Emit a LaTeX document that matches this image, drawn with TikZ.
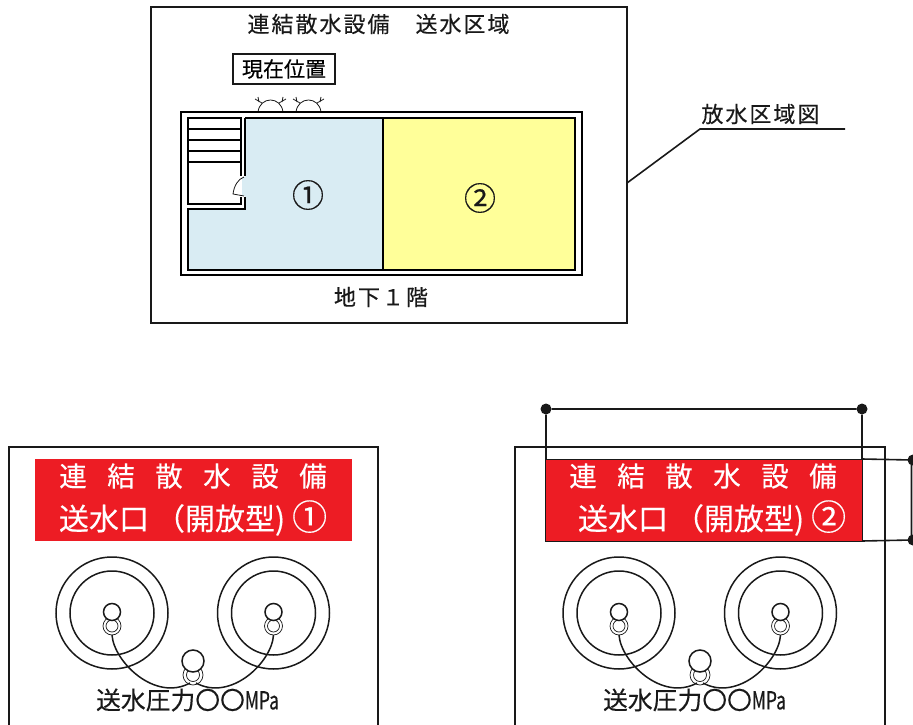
\documentclass[tikz,border=0pt]{standalone}
\usepackage{fontspec}
\setmainfont[FakeBold=0.35]{Noto Sans CJK JP}
\newcommand{\fs}[1]{\fontsize{#1}{#1}\selectfont}
\definecolor{sigred}{RGB}{237,28,36}
\definecolor{zoneb}{RGB}{217,236,243}
\definecolor{zoney}{RGB}{255,255,153}
\tikzset{
  x=1pt,y=-1pt,
  every node/.style={outer sep=0pt},
  wall/.style={draw=black,line width=2pt},
  thin box/.style={draw=black!90,line width=1.6pt},
  lab/.style={inner sep=0pt,text=black!90},
  sign/.style={inner sep=0pt,text=white},
  ln/.style={draw=black!90,line width=1.6pt},
  pipe/.style={draw=black!90,line width=1.5pt},
  dot/.style={circle,fill=black!90,inner sep=0pt,minimum size=11pt},
  mouth/.style={draw=black!90,line width=1.5pt,circle,inner sep=0pt,fill=white},
}
\newcommand{\valveset}[1]{%
\begin{scope}[shift={(#1,0)}]
  \node[mouth,minimum size=112pt] (ol) at (-81,613) {};
  \node[mouth,minimum size=84pt] (il) at (-81,613) {};
  \node[mouth,minimum size=112pt] (or) at (80.5,613) {};
  \node[mouth,minimum size=84pt] (ir) at (80.5,613) {};
  \node[mouth,minimum size=18pt,line width=.7pt] (rl) at (-81,626) {};
  \node[mouth,minimum size=12pt,line width=.7pt] at (-81,626) {};
  \node[mouth,minimum size=17pt] (hl) at (-81,612) {};
  \node[mouth,minimum size=18pt,line width=.7pt] (rr) at (80.5,626) {};
  \node[mouth,minimum size=12pt,line width=.7pt] at (80.5,626) {};
  \node[mouth,minimum size=17pt] (hr) at (80.5,612) {};
  \node[mouth,minimum size=20pt,line width=.7pt] (rc) at (0,675) {};
  \node[mouth,minimum size=13pt,line width=.7pt] at (0,675) {};
  \node[mouth,minimum size=22pt] (hc) at (0,661) {};
  \draw[pipe] (rl.south) .. controls (-79,662) and (-38,702) .. (-3,683);
  \draw[pipe] (rr.south) .. controls (79,662) and (38,702) .. (3,683);
  \node[lab,font=\fs{24.8}] at (-5.5,700) {送水圧力〇〇\scalebox{.7}[1]{MPa}};
\end{scope}}
\newcommand{\signtop}{連\hspace{20.5pt}結\hspace{20.5pt}散\hspace{20.5pt}水\hspace{20.5pt}設\hspace{20.5pt}備}
\newcommand{\signlow}[1]{送水口\hspace{6pt}（開放型)\hspace{7pt}{\fs{35}#1}}
\newcommand{\gp}{\kern2pt\relax}
\begin{document}
\begin{tikzpicture}
\useasboundingbox (0,0) rectangle (913,725);
% top frame
\node[thin box,minimum width=476pt,minimum height=316pt,inner sep=0pt] (frame) at (389,165) {};
\node[lab,font=\fs{22}] (title) at (378.5,24) {連\gp 結\gp 散\gp 水\gp 設\gp 備\gp 　\gp 送\gp 水\gp 区\gp 域};
\node[thin box,line width=1.2pt,minimum width=102pt,minimum height=30pt,inner sep=0pt,font=\fs{21}] (here) at (284,69) {現在位置};
% siamese symbols
\draw[pipe,line width=.8pt] (258,112) .. controls (260,96) and (281,96) .. (283,112)
  (296,112) .. controls (298,96) and (319,96) .. (321,112)
  (262,103) -- (255,99) (258,97) -- (259,102) (279,103) -- (286,99) (283,97) -- (282,102)
  (300,103) -- (293,99) (296,97) -- (297,102) (317,103) -- (324,99) (321,97) -- (320,102);
% plan
\node[wall,minimum width=401pt,minimum height=163pt,inner sep=0pt] (outer) at (381.5,193.5) {};
\fill[zoneb] (245,118) -- (383,118) -- (383,270) -- (188,270) -- (188,209) -- (245,209) -- cycle;
\fill[zoney] (383,118) rectangle (575,270);
\draw[wall] (245,118) -- (575,118) -- (575,270) -- (188,270) -- (188,209) -- (245,209) -- (245,197);
\draw[wall] (383,118) -- (383,270);
\draw[wall] (245,118) -- (245,176);
\draw[wall] (188,117.5) -- (241,117.5) -- (241,176);
\draw[wall] (188,117) -- (188,204) -- (241,204) -- (241,197);
\draw[wall,line width=1.7pt] (188,129) -- (241,129) (188,140) -- (241,140) (188,151) -- (241,151) (188,162) -- (241,162);
\fill[white] (234,177) rectangle (242,196);
\fill[zoneb] (242,177) rectangle (247,196);
\draw[draw=black!90,line width=.8pt] (244,177) .. controls (238,179) and (234,186) .. (233,194) -- (244,196);
\node[lab,font=\fs{32}] (z1) at (308,195) {①};
\node[lab,font=\fs{32}] (z2) at (480,198) {②};
\node[lab,font=\fs{22}] (floor) at (381,297) {地\gp 下\gp １\gp 階};
% leader
\node[lab,font=\fs{22}] (legend) at (760.5,114) {放\gp 水\gp 区\gp 域\gp 図};
\coordinate (l0) at (627,183);
\coordinate (l1) at (700,129);
\coordinate (l2) at (845,129);
\draw[ln] (l0) -- (l1) -- (l2);
% left panel
\node[thin box,minimum width=369pt,minimum height=300pt,inner sep=0pt,anchor=north west] (pl) at (9,447) {};
\node[fill=sigred,minimum width=317pt,minimum height=82pt,inner sep=0pt] (rl1) at (193.5,500) {};
\node[sign,font=\fs{27.5}] (tl1) at (193,476) {\signtop};
\node[sign,font=\fs{30},anchor=west] (tl2) at (59,518) {\signlow{①}};
\valveset{193}
% right panel
\node[thin box,minimum width=370pt,minimum height=300pt,inner sep=0pt,anchor=north west] (pr) at (515,447) {};
\node[fill=sigred,draw=black!90,line width=.9pt,minimum width=317pt,minimum height=82pt,inner sep=0pt] (rl2) at (703.5,500) {};
\node[sign,font=\fs{27.5}] (tr1) at (703,476) {\signtop};
\node[sign,font=\fs{30},anchor=west] (tr2) at (578,518) {\signlow{②}};
\valveset{700}
% terminals
\node[dot] (a) at (546,409) {};
\node[dot] (b) at (862,409) {};
\coordinate (a2) at (546,459);
\coordinate (b2) at (862,459);
\coordinate (b3) at (862,541);
\node[dot] (c) at (913,460) {};
\node[dot] (d) at (913,540) {};
\coordinate (c2) at (911.5,460);
\coordinate (d2) at (911.5,540);
\draw[ln] (a2) -- (a) -- (b) -- (b2) -- (c2) -- (d2) -- (b3);
\end{tikzpicture}
\end{document}
